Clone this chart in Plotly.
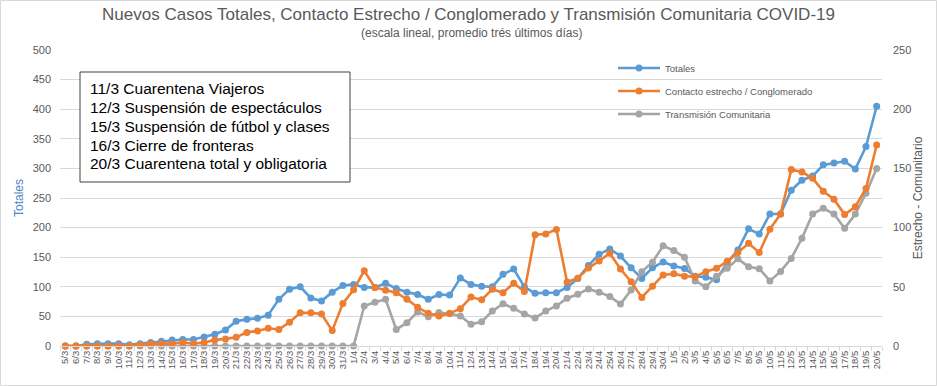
import plotly.graph_objects as go

fechas = [
    "5/3", "6/3", "7/3", "8/3", "9/3", "10/3", "11/3", "12/3", "13/3", "14/3",
    "15/3", "16/3", "17/3", "18/3", "19/3", "20/3", "21/3", "22/3", "23/3", "24/3",
    "25/3", "26/3", "27/3", "28/3", "29/3", "30/3", "31/3",
    "1/4", "2/4", "3/4", "4/4", "5/4", "6/4", "7/4", "8/4", "9/4", "10/4",
    "11/4", "12/4", "13/4", "14/4", "15/4", "16/4", "17/4", "18/4", "19/4", "20/4",
    "21/4", "22/4", "23/4", "24/4", "25/4", "26/4", "27/4", "28/4", "29/4", "30/4",
    "1/5", "2/5", "3/5", "4/5", "5/5", "6/5", "7/5", "8/5", "9/5", "10/5",
    "11/5", "12/5", "13/5", "14/5", "15/5", "16/5", "17/5", "18/5", "19/5", "20/5",
]

totales = [
    0, 0, 3, 4, 4, 4, 2, 4, 6, 8,
    10, 11, 11, 15, 20, 27, 42, 45, 47, 52,
    79, 96, 100, 81, 76, 91, 102, 104, 99, 99,
    106, 97, 91, 87, 79, 87, 86, 115, 104, 101,
    100, 121, 130, 100, 89, 90, 90, 99, 114, 136,
    155, 164, 152, 132, 114, 132, 142, 135, 131, 118,
    116, 112, 141, 162, 198, 189, 223, 223, 263, 280,
    287, 306, 309, 312, 299, 337, 405,
]

contacto = [
    0, 0, 0, 0, 0, 0, 0, 1, 2, 2,
    2, 3, 2, 3, 5, 6, 7.3, 11.5, 12.7, 15,
    14, 20, 28, 28, 27, 13, 36, 47.5, 63.5, 49.5,
    47, 45, 39.5, 32.7, 27.6, 25.3, 27.6, 31.5, 41.3, 39,
    48, 45, 53, 46, 94, 94.6, 98.5, 54, 57.3, 65.8,
    71.8, 78.3, 65, 54.3, 41, 50.5, 60, 61, 59, 58.5,
    62.8, 65.6, 71.5, 79, 86.7, 79, 98.7, 111.5, 149, 147,
    141.6, 130.6, 124, 111, 117.6, 133, 169.8,
]

comunitaria = [
    0, 0, 0, 0, 0, 0, 0, 0, 0, 0,
    0, 0, 0, 0, 0, 0, 0, 0, 0, 0,
    0, 0, 0, 0, 0, 0, 0, 0, 33.8, 37,
    39.4, 14, 19.7, 28.8, 24.8, 28.3, 27.3, 25.3, 18.3, 20.5,
    29.5, 35.7, 31.8, 27, 23.6, 29.5, 33.8, 40.3, 43.7, 48.2,
    45.5, 41.8, 35.4, 47.3, 62.8, 70.8, 84.6, 80.7, 74.9, 55,
    50, 59, 65.6, 73.6, 67, 65.3, 55, 63, 74, 91,
    111.5, 116.3, 111.5, 99.4, 111.5, 129, 150,
]

eventos = [
    "11/3 Cuarentena Viajeros",
    "12/3 Suspensión de espectáculos",
    "15/3 Suspensión de fútbol y clases",
    "16/3 Cierre de fronteras",
    "20/3 Cuarentena total y obligatoria",
]

nombres = ["Totales", "Contacto estrecho / Conglomerado", "Transmisión Comunitaria"]
colores = ["#5b9bd5", "#ed7d31", "#a5a5a5"]

W, H = 937, 386
L, R, T, B = 60, 55, 50, 40
pw, ph = W - L - R, H - T - B


def px(xp):
    return (xp - L) / pw


def py(yp):
    return (H - B - yp) / ph


TXT = "#595959"
FONT = "Liberation Sans, Arial, sans-serif"

fig = go.Figure()
series = [totales, contacto, comunitaria]
axes = ["y", "y2", "y2"]
legs = ["legend", "legend2", "legend3"]
traces = []
for name, vals, col, ax, lg in zip(nombres, series, colores, axes, legs):
    traces.append(go.Scatter(
        x=fechas, y=vals, name=name, yaxis=ax, legend=lg,
        mode="lines+markers",
        line=dict(color=col, width=2.6),
        marker=dict(color=col, size=7),
        cliponaxis=False,
    ))
# gray drawn first (behind), then blue, then orange on top
for t in (traces[2], traces[0], traces[1]):
    fig.add_trace(t)

leg_common = dict(
    xanchor="left", yanchor="middle", bgcolor="rgba(0,0,0,0)",
    font=dict(family=FONT, size=9.5, color=TXT), itemwidth=42,
)
legend_y = [68, 91, 114]
legend_x = 613
fig.update_layout(
    legend=dict(x=px(legend_x), y=py(legend_y[0]), **leg_common),
    legend2=dict(x=px(legend_x), y=py(legend_y[1]), **leg_common),
    legend3=dict(x=px(legend_x), y=py(legend_y[2]), **leg_common),
)

fig.update_layout(
    width=W, height=H,
    margin=dict(l=L, r=R, t=T, b=B, pad=0, autoexpand=False),
    paper_bgcolor="white", plot_bgcolor="white",
    showlegend=True,
    title=dict(
        text="Nuevos Casos Totales, Contacto Estrecho / Conglomerado y Transmisión Comunitaria COVID-19",
        x=0.5, xanchor="center", y=1 - 14 / H, yanchor="middle",
        font=dict(family=FONT, size=17, color=TXT),
    ),
    xaxis=dict(
        type="category", range=[-0.5, len(fechas) - 0.5],
        tickmode="linear", tick0=0, dtick=1,
        tickangle=-90, tickfont=dict(family=FONT, size=9.5, color=TXT),
        showgrid=False, showline=True, linecolor="#d9d9d9", linewidth=1,
        ticks="outside", ticklen=4, tickcolor="#d9d9d9", tickson="boundaries",
        zeroline=False, automargin=False,
    ),
    yaxis=dict(
        range=[0, 500], dtick=50, showgrid=True, gridcolor="#d9d9d9", gridwidth=1,
        zeroline=False, showline=False, automargin=False,
        tickfont=dict(family=FONT, size=11, color=TXT), ticks="", ticklabelstandoff=8,
        title=dict(text="Totales", font=dict(family=FONT, size=12, color="#4a86c8"), standoff=6),
    ),
    yaxis2=dict(
        range=[0, 250], dtick=50, overlaying="y", side="right", showgrid=False,
        zeroline=False, showline=False, automargin=False,
        tickfont=dict(family=FONT, size=11, color=TXT), ticks="", ticklabelstandoff=10,
        title=dict(text="Estrecho - Comunitario", font=dict(family=FONT, size=12, color=TXT), standoff=3),
    ),
)

annotations = [dict(
    text="(escala lineal, promedio trés últimos días)",
    xref="paper", yref="paper", x=0.5, y=py(33), xanchor="center", yanchor="middle",
    showarrow=False, font=dict(family=FONT, size=12, color=TXT),
)]
line_y = [88, 107, 126, 145, 163]
for txt, yy in zip(eventos, line_y):
    annotations.append(dict(
        text=txt, xref="paper", yref="paper", x=px(88), y=py(yy),
        xanchor="left", yanchor="middle", showarrow=False,
        font=dict(family=FONT, size=15.5, color="#000000"),
    ))
fig.update_layout(annotations=annotations)

fig.update_layout(shapes=[
    dict(type="rect", xref="paper", yref="paper",
         x0=px(80), x1=px(350), y0=py(182), y1=py(72),
         line=dict(color="#404040", width=1), fillcolor="white", layer="above"),
    dict(type="rect", xref="paper", yref="paper",
         x0=px(0.5), x1=px(936.5), y0=py(385.5), y1=py(0.5),
         line=dict(color="#d9d9d9", width=1), fillcolor="rgba(0,0,0,0)", layer="above"),
])

fig.write_html(
    "out.html",
    config={"displayModeBar": False},
    post_script="document.body.style.margin='0px';",
)
